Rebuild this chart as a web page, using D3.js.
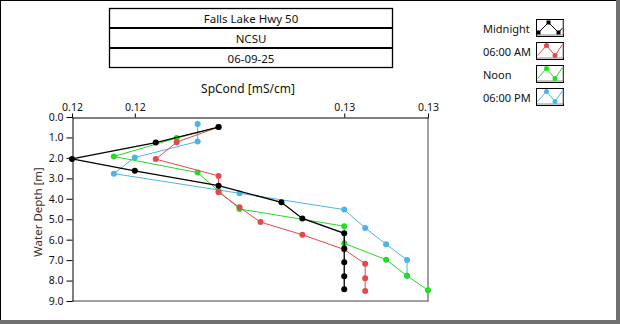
<!DOCTYPE html>
<html>
<head>
<meta charset="utf-8">
<script src="https://cdn.jsdelivr.net/npm/d3@7"></script>
<style>
  html, body { margin: 0; padding: 0; background: #fff; }
  svg { display: block; font-family: "Noto Sans", sans-serif; }
</style>
</head>
<body>
<svg id="chart" width="620" height="324"></svg>
<script>
// Header rows
const titleRows = ["Falls Lake Hwy 50", "NCSU", "06-09-25"];

// Series names (legend order)
const seriesNames = ["Midnight", "06:00 AM", "Noon", "06:00 PM"];

// Midnight profile
const depthMidnight = [0.49, 1.25, 2.05, 2.63, 3.36, 4.17, 4.96, 5.69, 6.43, 7.10, 7.79, 8.43];
const condMidnight  = [0.1236, 0.1224, 0.1208, 0.1220, 0.1236, 0.1248, 0.1252, 0.1260, 0.1260, 0.1260, 0.1260, 0.1260];

// 06:00 AM profile
const depthMorning = [0.49, 1.23, 2.06, 2.88, 3.68, 4.42, 5.14, 5.76, 6.48, 7.18, 7.89, 8.51];
const condMorning  = [0.1236, 0.1228, 0.1224, 0.1236, 0.1236, 0.1240, 0.1244, 0.1252, 0.1260, 0.1264, 0.1264, 0.1264];

// Noon profile
const depthNoon = [0.49, 1.03, 1.93, 2.72, 3.62, 4.50, 5.34, 6.18, 6.98, 7.77, 8.47];
const condNoon  = [0.1236, 0.1228, 0.1216, 0.1232, 0.1236, 0.1240, 0.1260, 0.1260, 0.1268, 0.1272, 0.1276];

// 06:00 PM profile
const depthEvening = [0.34, 1.20, 1.98, 2.77, 3.73, 4.53, 5.43, 6.22, 6.99, 7.77];
const condEvening  = [0.1232, 0.1232, 0.1220, 0.1216, 0.1240, 0.1260, 0.1264, 0.1268, 0.1272, 0.1272];

// Axis ticks
const xTicks = [0.1208, 0.122, 0.126, 0.1276];
const yTicks = [0, 1, 2, 3, 4, 5, 6, 7, 8, 9];

const seriesColors = ["#000000", "#e54848", "#22dd22", "#4db4ea"];

const series = [
  { name: seriesNames[0], depth: depthMidnight, cond: condMidnight, color: seriesColors[0], width: 1.3 },
  { name: seriesNames[1], depth: depthMorning,  cond: condMorning,  color: seriesColors[1], width: 1 },
  { name: seriesNames[2], depth: depthNoon,     cond: condNoon,     color: seriesColors[2], width: 1 },
  { name: seriesNames[3], depth: depthEvening,  cond: condEvening,  color: seriesColors[3], width: 1 }
];

const svg = d3.select("#chart");

// Panel frame
svg.append("rect").attr("x", 0).attr("y", 0).attr("width", 620).attr("height", 324).attr("fill", "#fff");
svg.append("line").attr("x1", 0.5).attr("y1", 0).attr("x2", 0.5).attr("y2", 324).attr("stroke", "#000");
svg.append("line").attr("x1", 0).attr("y1", 0.5).attr("x2", 620).attr("y2", 0.5).attr("stroke", "#000");
svg.append("rect").attr("x", 616).attr("y", 0).attr("width", 4).attr("height", 324).attr("fill", "#707070");
svg.append("rect").attr("x", 0).attr("y", 320).attr("width", 620).attr("height", 4).attr("fill", "#707070");

// Header table
const box = { x: 109, y: 8, w: 283, rowH: 20 };
const header = svg.append("g");
header.append("rect")
  .attr("x", box.x + 0.5).attr("y", box.y + 0.5)
  .attr("width", box.w).attr("height", box.rowH * titleRows.length - 1)
  .attr("fill", "#fff").attr("stroke", "#000").attr("stroke-width", 1.3);
titleRows.forEach((t, i) => {
  if (i > 0) {
    header.append("line")
      .attr("x1", box.x).attr("x2", box.x + box.w + 1)
      .attr("y1", box.y + i * box.rowH).attr("y2", box.y + i * box.rowH)
      .attr("stroke", "#000").attr("stroke-width", 2);
  }
  header.append("text")
    .attr("x", box.x + box.w / 2 + 0.5)
    .attr("y", box.y + i * box.rowH + box.rowH / 2 + 0.5)
    .attr("text-anchor", "middle").attr("dominant-baseline", "central")
    .attr("font-size", 11.5).attr("fill", "#111")
    .text(t);
});

// Scales
const x = d3.scaleLinear().domain([xTicks[0], xTicks[xTicks.length - 1]]).range([72, 428]);
const y = d3.scaleLinear().domain([0, 9]).range([117, 301]);

// Plot frame: right and bottom edges
svg.append("line").attr("x1", 428).attr("x2", 428).attr("y1", 117).attr("y2", 301.5)
  .attr("stroke", "#808080").attr("stroke-width", 1.5);
svg.append("line").attr("x1", 72).attr("x2", 428.5).attr("y1", 301).attr("y2", 301)
  .attr("stroke", "#808080").attr("stroke-width", 1.5);

// Top axis
const xAxis = d3.axisTop(x).tickValues(xTicks).tickFormat(d3.format(".2f"))
  .tickSizeInner(4).tickSizeOuter(0).tickPadding(3);
const gx = svg.append("g").attr("transform", "translate(0,117.5)").call(xAxis);
gx.selectAll("text").attr("font-size", 10.5).attr("font-family", "Noto Sans, sans-serif").attr("fill", "#111");
gx.select(".domain").attr("stroke", "#000");

// Left axis
const yAxis = d3.axisLeft(y).tickValues(yTicks).tickFormat(d3.format(".1f"))
  .tickSizeInner(6).tickSizeOuter(0).tickPadding(3);
const gy = svg.append("g").attr("transform", "translate(72.5,0)").call(yAxis);
gy.selectAll("text").attr("font-size", 10.5).attr("font-family", "Noto Sans, sans-serif").attr("fill", "#111");
gy.select(".domain").attr("stroke", "#000");

// Axis titles
svg.append("text").attr("x", 248).attr("y", 88)
  .attr("text-anchor", "middle").attr("dominant-baseline", "central")
  .attr("font-size", 12).attr("fill", "#111").text("SpCond [mS/cm]");
svg.append("text")
  .attr("transform", "translate(37,212) rotate(-90)")
  .attr("text-anchor", "middle").attr("dominant-baseline", "central")
  .attr("font-size", 11.5).attr("fill", "#3a2e2a").text("Water Depth [m]");

// Profiles: drawn back to front
const line = d3.line().x(d => x(d[0])).y(d => y(d[1]));
const drawOrder = [3, 2, 1, 0];
const plot = svg.append("g");
drawOrder.forEach(k => {
  const s = series[k];
  const pts = s.cond.map((c, i) => [c, s.depth[i]]);
  const g = plot.append("g");
  g.append("path").datum(pts).attr("d", line)
    .attr("fill", "none").attr("stroke", s.color).attr("stroke-width", s.width);
  g.selectAll("circle").data(pts).join("circle")
    .attr("cx", d => x(d[0])).attr("cy", d => y(d[1])).attr("r", 3)
    .attr("fill", s.color);
});

// Legend
const legend = svg.append("g");
series.forEach((s, i) => {
  const top = 19 + i * 23;
  const bx = 536;
  legend.append("text").attr("x", 483).attr("y", top + 9)
    .attr("dominant-baseline", "central").attr("font-size", 11).attr("fill", "#111")
    .text(s.name);
  legend.append("rect").attr("x", bx + 0.5).attr("y", top + 0.5)
    .attr("width", 27).attr("height", 17).attr("fill", "#fff")
    .attr("stroke", "#000").attr("stroke-width", 1);
  legend.append("path")
    .attr("d", `M${bx + 1},${top + 16} L${bx + 27},${top + 16} L${bx + 27},${top + 1}`)
    .attr("fill", "none").attr("stroke", "#888").attr("stroke-width", 1);
  let glyph, marks;
  if (i === 0) {
    glyph = [[2.5, 13.5], [12.5, 3.5], [22.5, 13.5], [26.5, 9]];
    marks = glyph.slice(0, 3);
  } else {
    glyph = [[1.5, 13.5], [10.5, 3.5], [19, 13.5], [26.5, 2.5]];
    marks = glyph.slice(1, 3);
  }
  legend.append("path")
    .attr("d", d3.line()(glyph.map(p => [bx + p[0], top + p[1]])))
    .attr("fill", "none").attr("stroke", s.color).attr("stroke-width", 1);
  marks.forEach(p => {
    if (i === 0) {
      legend.append("rect").attr("x", bx + p[0] - 2).attr("y", top + p[1] - 2)
        .attr("width", 4).attr("height", 4).attr("fill", s.color);
    } else {
      legend.append("circle").attr("cx", bx + p[0]).attr("cy", top + p[1]).attr("r", 2.5)
        .attr("fill", s.color);
    }
  });
});
</script>
</body>
</html>
